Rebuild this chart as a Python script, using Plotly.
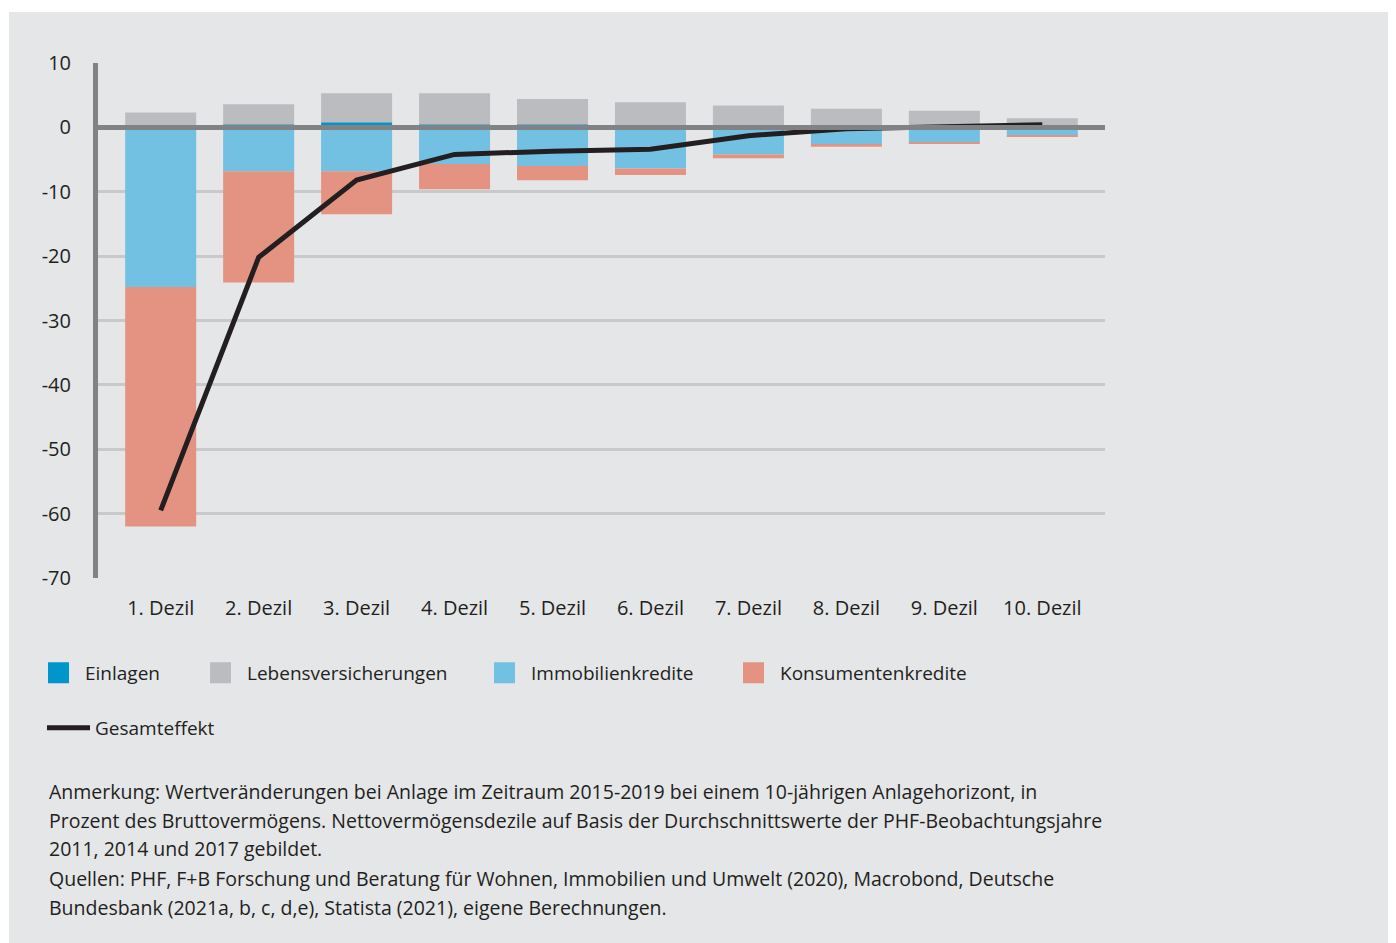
import plotly.graph_objects as go

categories = ["1. Dezil", "2. Dezil", "3. Dezil", "4. Dezil", "5. Dezil",
              "6. Dezil", "7. Dezil", "8. Dezil", "9. Dezil", "10. Dezil"]
einlagen = [0.0, 0.5, 0.8, 0.5, 0.5, 0.0, 0.0, 0.0, 0.0, 0.0]
lebensversicherungen = [2.3, 3.1, 4.5, 4.8, 3.9, 3.9, 3.4, 2.9, 2.6, 1.4]
immobilienkredite = [-24.8, -6.8, -6.8, -5.7, -6.0, -6.4, -4.2, -2.6, -2.3, -1.2]
konsumentenkredite = [-37.2, -17.3, -6.7, -3.9, -2.2, -1.0, -0.6, -0.4, -0.3, -0.2]
gesamteffekt = [-59.5, -20.2, -8.2, -4.2, -3.7, -3.4, -1.3, -0.2, 0.1, 0.4]
y_ticks = [10, 0, -10, -20, -30, -40, -50, -60, -70]

note_lines = [
    "Anmerkung: Wertveränderungen bei Anlage im Zeitraum 2015-2019 bei einem 10-jährigen Anlagehorizont, in",
    "Prozent des Bruttovermögens. Nettovermögensdezile auf Basis der Durchschnittswerte der PHF-Beobachtungsjahre",
    "2011, 2014 und 2017 gebildet.",
    "Quellen: PHF, F+B Forschung und Beratung für Wohnen, Immobilien und Umwelt (2020), Macrobond, Deutsche",
    "Bundesbank (2021a, b, c, d,e), Statista (2021), eigene Berechnungen.",
]

C_EIN = "#0095CB"
C_LEB = "#BBBCBF"
C_IMM = "#72C0E2"
C_KON = "#E49382"
C_LINE = "#231F20"
C_AXIS = "#808285"
C_GRID = "#C8C9CB"
C_BG = "#E5E6E8"
TXT = "#231F20"
FONT = "Open Sans"

OFF = 8  # page body margin
W, H = 1396 - OFF, 943 - OFF
L, R, T, B = 98, 1105, 63, 578  # screen coordinates of plot area
PW, PH = R - L, B - T

def px(x):
    return (x - L) / PW

def py(y):
    return (B - y) / PH

fig = go.Figure()

series = [("Einlagen", einlagen, C_EIN), ("Lebensversicherungen", lebensversicherungen, C_LEB),
          ("Immobilienkredite", immobilienkredite, C_IMM), ("Konsumentenkredite", konsumentenkredite, C_KON)]
for name, vals, col in series:
    fig.add_trace(go.Bar(x=categories, y=vals, name=name, marker=dict(color=col, line=dict(width=0)),
                         showlegend=False))

fig.add_trace(go.Scatter(x=categories, y=gesamteffekt, mode="lines", name="Gesamteffekt",
                         line=dict(color=C_LINE, width=5), legend="legend5"))

# legend entries (square keys)
legend_x = [47, 209, 493, 742]
for i, (name, vals, col) in enumerate(series):
    lg = "legend" if i == 0 else f"legend{i+1}"
    fig.add_trace(go.Scatter(x=[None], y=[None], mode="markers", name=name,
                             marker=dict(symbol="square", size=16, color=col, line=dict(color=col, width=5)),
                             legend=lg))

legend_common = dict(orientation="h", bgcolor="rgba(0,0,0,0)", borderwidth=0, itemwidth=43,
                     font=dict(family=FONT, size=19, color=TXT), yanchor="middle", xanchor="left")
layout_legends = {}
for i, lx in enumerate(legend_x):
    key = "legend" if i == 0 else f"legend{i+1}"
    layout_legends[key] = dict(legend_common, x=px(lx - 15), y=py(673))
layout_legends["legend5"] = dict(legend_common, x=px(47 - 5), y=py(728))

shapes = [
    dict(type="rect", xref="paper", yref="paper", x0=px(9), x1=px(1410), y0=py(960), y1=py(12),
         fillcolor=C_BG, line=dict(width=0), layer="below"),
    dict(type="line", xref="paper", yref="y", x0=0, x1=1, y0=0, y1=0,
         line=dict(color=C_AXIS, width=5), layer="above"),
]

annotations = []
for i, line in enumerate(note_lines):
    annotations.append(dict(text=line, xref="paper", yref="paper", x=px(47), y=py(791 + i * 29),
                            xanchor="left", yanchor="middle", showarrow=False,
                            font=dict(family=FONT, size=19.5, color=TXT)))

fig.update_layout(
    width=W, height=H,
    margin=dict(l=L - OFF, r=W - (R - OFF), t=T - OFF, b=H - (B - OFF)),
    paper_bgcolor="white", plot_bgcolor=C_BG,
    barmode="relative", bargap=0.275,
    font=dict(family=FONT, size=20, color=TXT),
    shapes=shapes, annotations=annotations,
    **layout_legends,
)
fig.update_xaxes(range=[-0.64, 9.64], showgrid=False, showline=False, zeroline=False,
                 ticks="", ticklabelstandoff=16, tickfont=dict(family=FONT, size=20, color=TXT))
fig.update_yaxes(range=[-70, 10], tickvals=y_ticks, ticktext=[str(v) for v in y_ticks],
                 showgrid=True, gridcolor=C_GRID, gridwidth=2.5, zeroline=False,
                 showline=True, linecolor=C_AXIS, linewidth=5, ticks="", ticklabelstandoff=18,
                 tickfont=dict(family=FONT, size=20, color=TXT))

fig.write_html("out.html")
